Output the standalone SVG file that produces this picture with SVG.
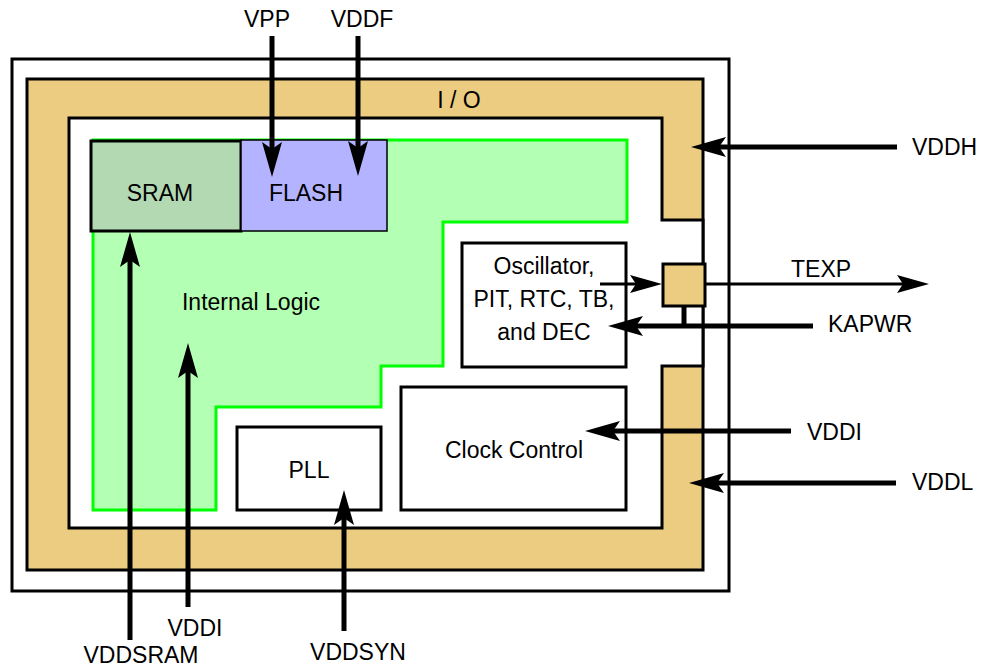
<svg xmlns="http://www.w3.org/2000/svg" width="982" height="668" viewBox="0 0 982 668">
<style>
  text { font-family: "Liberation Sans", Arial, sans-serif; font-size: 23px; fill: #000; }
  .c { text-anchor: middle; }
  .box { fill: #fff; stroke: #000; stroke-width: 3; }
  .thick { stroke: #000; stroke-width: 5; fill: none; }
  .thin { stroke: #000; stroke-width: 3; fill: none; }
</style>
<defs>
  <marker id="ah" markerUnits="userSpaceOnUse" viewBox="0 0 35 20" markerWidth="35" markerHeight="20" refX="7" refY="10" orient="auto">
    <path d="M0,0 L35,10 L0,20 L7,10 Z" fill="#000"/>
  </marker>
  <marker id="ahs" markerUnits="userSpaceOnUse" viewBox="0 0 32 18" markerWidth="32" markerHeight="18" refX="6" refY="9" orient="auto">
    <path d="M0,0 L32,9 L0,18 L6,9 Z" fill="#000"/>
  </marker>
</defs>
<rect width="982" height="668" fill="#fff"/>
<g id="chip">
  <rect x="12" y="59" width="717" height="532" class="box"/>
</g>
<g id="io">
  <rect x="27" y="79" width="676" height="491" fill="#ECCC80" stroke="#000" stroke-width="3"/>
  <polygon points="69,118 662,118 662,220 703,220 703,366 662,366 662,528 69,528" fill="#fff" stroke="#000" stroke-width="3"/>
  <text x="459" y="108" class="c">I / O</text>
</g>
<g id="internal-logic">
  <polygon points="93,140 627,140 627,222 443,222 443,366 381,366 381,407 216,407 216,510 93,510" fill="#B3FFB3" stroke="#00FF00" stroke-width="3"/>
  <text x="251" y="310" class="c">Internal Logic</text>
</g>
<g id="sram">
  <rect x="91" y="141" width="150" height="90" fill="#B3D9B3" stroke="#000" stroke-width="3"/>
  <text x="160" y="201" class="c">SRAM</text>
</g>
<g id="flash">
  <rect x="241" y="140" width="146" height="91" fill="#B3B3FF" stroke="#000" stroke-width="1.5"/>
  <text x="306" y="201" class="c">FLASH</text>
</g>
<g id="oscillator">
  <rect x="462" y="243" width="164" height="124" class="box"/>
  <text x="544" y="274" class="c">Oscillator,</text>
  <text x="544" y="307" class="c">PIT, RTC, TB,</text>
  <text x="544" y="340" class="c">and DEC</text>
</g>
<g id="pad">
  <rect x="663" y="264" width="42" height="42" fill="#ECCC80" stroke="#000" stroke-width="3"/>
</g>
<g id="pll">
  <rect x="237" y="427" width="144" height="83" class="box"/>
  <text x="309" y="478" class="c">PLL</text>
</g>
<g id="clock-control">
  <rect x="401" y="387" width="225" height="123" class="box"/>
  <text x="514" y="458" class="c">Clock Control</text>
</g>
<g id="connectors">
  <line x1="272" y1="36" x2="272" y2="149" class="thick" marker-end="url(#ah)"/>
  <line x1="358" y1="36" x2="358" y2="148" class="thick" marker-end="url(#ah)"/>
  <line x1="897" y1="147" x2="719" y2="147" class="thick" marker-end="url(#ah)"/>
  <line x1="896" y1="483" x2="717" y2="483" class="thick" marker-end="url(#ah)"/>
  <line x1="791" y1="431" x2="613" y2="431" class="thick" marker-end="url(#ah)"/>
  <line x1="813" y1="326" x2="636" y2="326" class="thick" marker-end="url(#ah)"/>
  <line x1="130" y1="640" x2="130" y2="260" class="thick" marker-end="url(#ah)"/>
  <line x1="188" y1="607" x2="188" y2="371" class="thick" marker-end="url(#ah)"/>
  <line x1="344" y1="631" x2="344" y2="518" class="thick" marker-end="url(#ah)"/>
  <line x1="600" y1="284" x2="636" y2="284" class="thin" marker-end="url(#ahs)"/>
  <line x1="705" y1="284" x2="903" y2="284" class="thin" marker-end="url(#ahs)"/>
  <line x1="684" y1="306" x2="684" y2="326" class="thick"/>
</g>
<g id="labels">
  <text x="267" y="27" class="c">VPP</text>
  <text x="362" y="27" class="c">VDDF</text>
  <text x="912" y="155">VDDH</text>
  <text x="791" y="277">TEXP</text>
  <text x="828" y="332">KAPWR</text>
  <text x="807" y="440">VDDI</text>
  <text x="912" y="490">VDDL</text>
  <text x="195" y="636" class="c">VDDI</text>
  <text x="141" y="663" class="c">VDDSRAM</text>
  <text x="358" y="660" class="c">VDDSYN</text>
</g>
</svg>
